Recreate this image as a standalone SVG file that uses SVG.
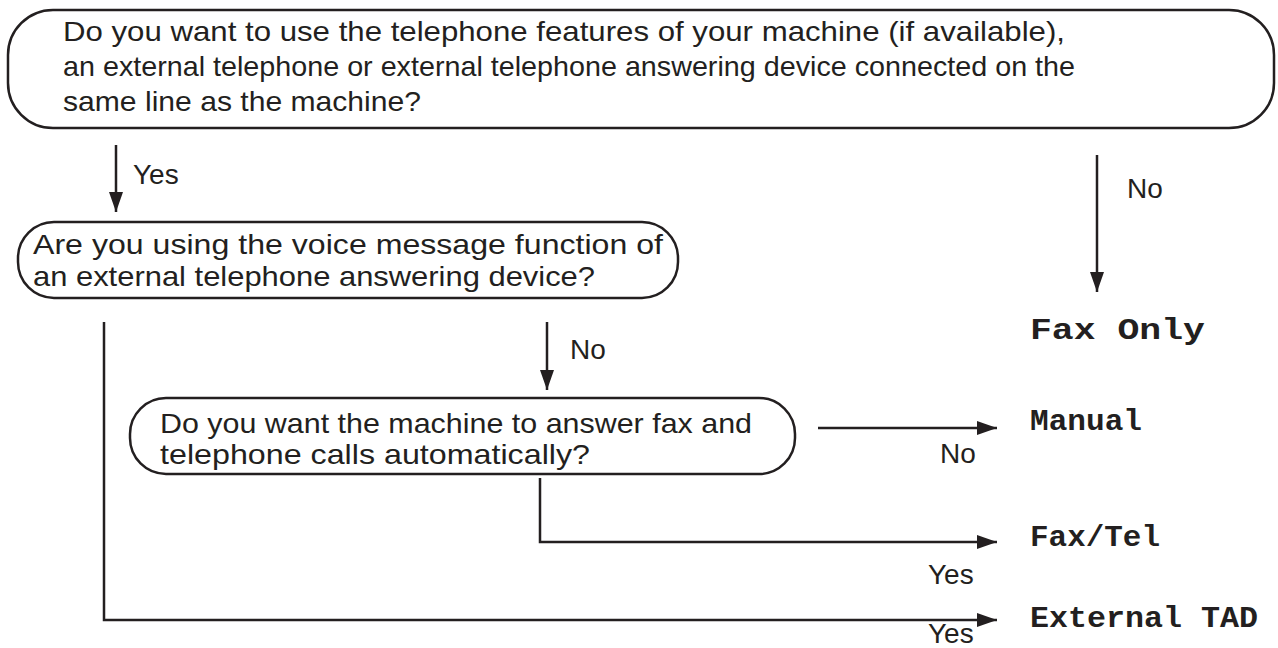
<svg xmlns="http://www.w3.org/2000/svg" width="1278" height="648" viewBox="0 0 1278 648">
<style>
.b{fill:none;stroke:#231f20;stroke-width:2.5}
.t{font-family:"Liberation Sans",Arial,sans-serif;font-size:28px;fill:#231f20}
.m{font-family:"Liberation Mono","Courier New",monospace;font-size:30px;font-weight:bold;fill:#231f20}
.l{fill:none;stroke:#231f20;stroke-width:2.5}
</style>
<defs>
<marker id="ar" markerWidth="20" markerHeight="14" refX="20" refY="7" orient="auto" markerUnits="userSpaceOnUse"><path d="M0,0 L20,7 L0,14z" fill="#231f20"/></marker></defs>
<g id="q1"><rect class="b" x="8" y="10" width="1266" height="118" rx="45"/>
<text class="t" x="63" y="41" textLength="1002" lengthAdjust="spacingAndGlyphs">Do you want to use the telephone features of your machine (if available),</text>
<text class="t" x="63" y="76" textLength="1012" lengthAdjust="spacingAndGlyphs">an external telephone or external telephone answering device connected on the</text>
<text class="t" x="63" y="111" textLength="358" lengthAdjust="spacingAndGlyphs">same line as the machine?</text></g>
<g id="q2"><rect class="b" x="18" y="222" width="660" height="76" rx="36"/>
<text class="t" x="33" y="254" textLength="630" lengthAdjust="spacingAndGlyphs">Are you using the voice message function of</text>
<text class="t" x="33" y="286" textLength="562" lengthAdjust="spacingAndGlyphs">an external telephone answering device?</text></g>
<g id="q3"><rect class="b" x="130" y="398" width="665" height="76" rx="36"/>
<text class="t" x="160" y="433" textLength="592" lengthAdjust="spacingAndGlyphs">Do you want the machine to answer fax and</text>
<text class="t" x="160" y="464" textLength="430" lengthAdjust="spacingAndGlyphs">telephone calls automatically?</text></g>
<g id="r1"><text class="m" x="1030" y="339" textLength="175" lengthAdjust="spacingAndGlyphs">Fax Only</text></g>
<g id="r2"><text class="m" x="1030" y="430" textLength="112" lengthAdjust="spacingAndGlyphs">Manual</text></g>
<g id="r3"><text class="m" x="1030" y="546" textLength="130" lengthAdjust="spacingAndGlyphs">Fax/Tel</text></g>
<g id="r4"><text class="m" x="1030" y="627" textLength="228" lengthAdjust="spacingAndGlyphs">External TAD</text></g>
<g id="connectors">
<line class="l" x1="116" y1="145" x2="116" y2="212" marker-end="url(#ar)"/>
<line class="l" x1="1097" y1="155" x2="1097" y2="292" marker-end="url(#ar)"/>
<line class="l" x1="547" y1="322" x2="547" y2="390" marker-end="url(#ar)"/>
<line class="l" x1="818" y1="428" x2="997" y2="428" marker-end="url(#ar)"/>
<polyline class="l" points="540,478 540,542 997,542" marker-end="url(#ar)"/>
<polyline class="l" points="104,322 104,620 997,620" marker-end="url(#ar)"/>
<text class="t" x="133" y="184">Yes</text>
<text class="t" x="1127" y="198">No</text>
<text class="t" x="570" y="359">No</text>
<text class="t" x="940" y="463">No</text>
<text class="t" x="928" y="584">Yes</text>
<text class="t" x="928" y="643">Yes</text>
</g>
</svg>
